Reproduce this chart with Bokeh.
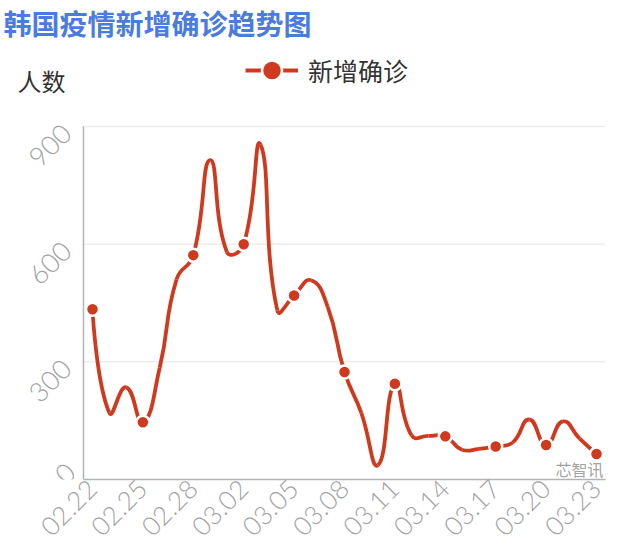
import math
from bokeh.plotting import figure
from bokeh.models import (ColumnDataSource, Label, Legend, LegendItem,
                          FixedTicker, Range1d)
from bokeh.core.properties import value
from bokeh.embed import file_html
from bokeh.resources import INLINE

# ---------------- data ----------------
dates = ["02.22", "02.23", "02.24", "02.25", "02.26", "02.27", "02.28", "02.29",
         "03.01", "03.02", "03.03", "03.04", "03.05", "03.06", "03.07", "03.08",
         "03.09", "03.10", "03.11", "03.12", "03.13", "03.14", "03.15", "03.16",
         "03.17", "03.18", "03.19", "03.20", "03.21", "03.22", "03.23"]
new_cases = [434, 170, 235, 146, 285, 510, 572, 814,
             580, 600, 854, 431, 469, 508, 440, 274,
             170, 37, 244, 112, 111, 110, 76, 78,
             84, 94, 153, 88, 148, 104, 65]
y_ticks = [0, 300, 600, 900]
title_text = "韩国疫情新增确诊趋势图"
series_name = "新增确诊"
y_name = "人数"
watermark = "芯智讯"

RED = "#cf3a1f"
CJK = "Noto Sans CJK SC"
NUM = "Lato Light, Lato"

xs = list(range(len(dates)))
X_LO, X_HI = -0.536, 30.536          # plotting-area edges (in day units)
FB = 479                              # frame bottom in canvas pixels

# ---------------- smooth curve control points (echarts-like) ----------------
KX, KY = 16.8, 0.3922  # approx pixel per unit, used only for the smoothing ratios


def smooth_segments(x, y, smooth=0.5):
    px = [v * KX for v in x]
    py = [v * KY for v in y]
    n = len(px)
    before, after = [], []
    for i in range(n):
        if i == 0 or i == n - 1:
            before.append((px[i], py[i]))
            after.append((px[i], py[i]))
            continue
        vx = (px[i + 1] - px[i - 1]) * smooth
        vy = (py[i + 1] - py[i - 1]) * smooth
        dp = math.hypot(px[i] - px[i - 1], py[i] - py[i - 1])
        dn = math.hypot(px[i + 1] - px[i], py[i + 1] - py[i])
        s = dp + dn
        dp, dn = dp / s, dn / s
        before.append((px[i] - vx * dp, py[i] - vy * dp))
        after.append((px[i] + vx * dn, py[i] + vy * dn))
    seg = dict(x0=[], y0=[], x1=[], y1=[], cx0=[], cy0=[], cx1=[], cy1=[])
    for i in range(n - 1):
        seg["x0"].append(x[i]); seg["y0"].append(y[i])
        seg["x1"].append(x[i + 1]); seg["y1"].append(y[i + 1])
        seg["cx0"].append(after[i][0] / KX); seg["cy0"].append(after[i][1] / KY)
        seg["cx1"].append(before[i + 1][0] / KX); seg["cy1"].append(before[i + 1][1] / KY)
    return seg


seg_src = ColumnDataSource(smooth_segments(xs, new_cases))
mark_idx = list(range(0, len(dates), 3))
mark_src = ColumnDataSource(dict(x=[xs[i] for i in mark_idx],
                                 y=[new_cases[i] for i in mark_idx]))

# y tick label table (the bottom label is lifted a little so it stays visible)
ytick_src = ColumnDataSource(dict(
    x=[X_LO] * len(y_ticks), y=y_ticks, text=[str(t) for t in y_ticks],
    dx=[-13 if t == y_ticks[0] else -17 for t in y_ticks],
    dy=[-12 if t == y_ticks[0] else 2 for t in y_ticks]))

# ---------------- figure ----------------
# frame spans the whole canvas except the bottom axis panel
p = figure(width=619, height=558, output_backend="svg", toolbar_location=None,
           x_range=Range1d(-5.476, X_HI), y_range=Range1d(0, 1221.25),
           min_border_left=0, min_border_right=14, min_border_top=0,
           min_border_bottom=558 - FB, y_axis_location=None)
p.outline_line_color = None
p.background_fill_color = "white"
p.border_fill_color = "white"
p.xgrid.visible = False
p.ygrid.visible = False

# horizontal grid lines
p.segment(x0=[X_LO] * (len(y_ticks) - 1), x1=[X_HI] * (len(y_ticks) - 1),
          y0=y_ticks[1:], y1=y_ticks[1:], line_color="#ededed", line_width=1.5)
# y axis line and rotated tick labels
p.segment(x0=[X_LO], x1=[X_LO], y0=[y_ticks[0]], y1=[y_ticks[-1]],
          line_color="#b0b3b8", line_width=1.5)
p.text(x="x", y="y", text="text", source=ytick_src,
       angle=math.pi / 4, text_align="right", text_baseline="middle",
       x_offset="dx", y_offset="dy", text_font=value(NUM),
       text_font_size="27px", text_color="#a3a3a3")

# x axis
p.xaxis.bounds = (X_LO, X_HI)
p.xaxis.ticker = FixedTicker(ticks=mark_idx)
p.xaxis.major_label_overrides = {i: dates[i] for i in mark_idx}
p.xaxis.major_label_orientation = math.pi / 4
p.xaxis.major_label_text_font = NUM
p.xaxis.major_label_text_font_size = "26px"
p.xaxis.major_label_text_color = "#a3a3a3"
p.xaxis.axis_line_color = "#b0b3b8"
p.xaxis.axis_line_width = 1.5
p.xaxis.major_tick_line_color = None
p.xaxis.minor_tick_line_color = None
p.xaxis.major_tick_out = 0
p.xaxis.major_tick_in = 0
p.xaxis.minor_tick_out = 0
p.xaxis.major_label_standoff = 5

# series
curve = p.bezier(x0="x0", y0="y0", x1="x1", y1="y1", cx0="cx0", cy0="cy0",
                 cx1="cx1", cy1="cy1", source=seg_src, line_color=RED,
                 line_width=3.8)
marks = p.scatter(x="x", y="y", source=mark_src, size=13, fill_color=RED,
                  line_color="white", line_width=2.5)

legend = Legend(items=[LegendItem(label=series_name, renderers=[curve, marks])],
                location=(245, FB - 95), orientation="horizontal",
                glyph_width=53, glyph_height=50, label_standoff=10,
                padding=0, margin=0, spacing=0,
                border_line_color=None, background_fill_alpha=0,
                label_text_font=CJK, label_text_font_size="25px",
                label_text_color="#333333", label_text_baseline="middle")
p.add_layout(legend, "center")

# title, axis name, watermark (screen units relative to the frame's bottom-left)
p.add_layout(Label(x=3, y=FB - 22.5, x_units="screen", y_units="screen",
                   text=title_text, text_font=CJK, text_font_size="28px",
                   text_font_style="bold", text_color="#4a7ce0",
                   text_baseline="middle", text_align="left"))
p.add_layout(Label(x=17, y=FB - 79.5, x_units="screen", y_units="screen",
                   text=y_name, text_font=CJK, text_font_size="24px",
                   text_color="#333333", text_baseline="middle", text_align="left"))
p.add_layout(Label(x=555, y=FB - 468, x_units="screen", y_units="screen",
                   text=watermark, text_font=CJK, text_font_size="16px",
                   text_color="#8a8a8a", text_alpha=0.8,
                   text_baseline="middle", text_align="left"))

open("out.html", "w").write(file_html(p, INLINE))
